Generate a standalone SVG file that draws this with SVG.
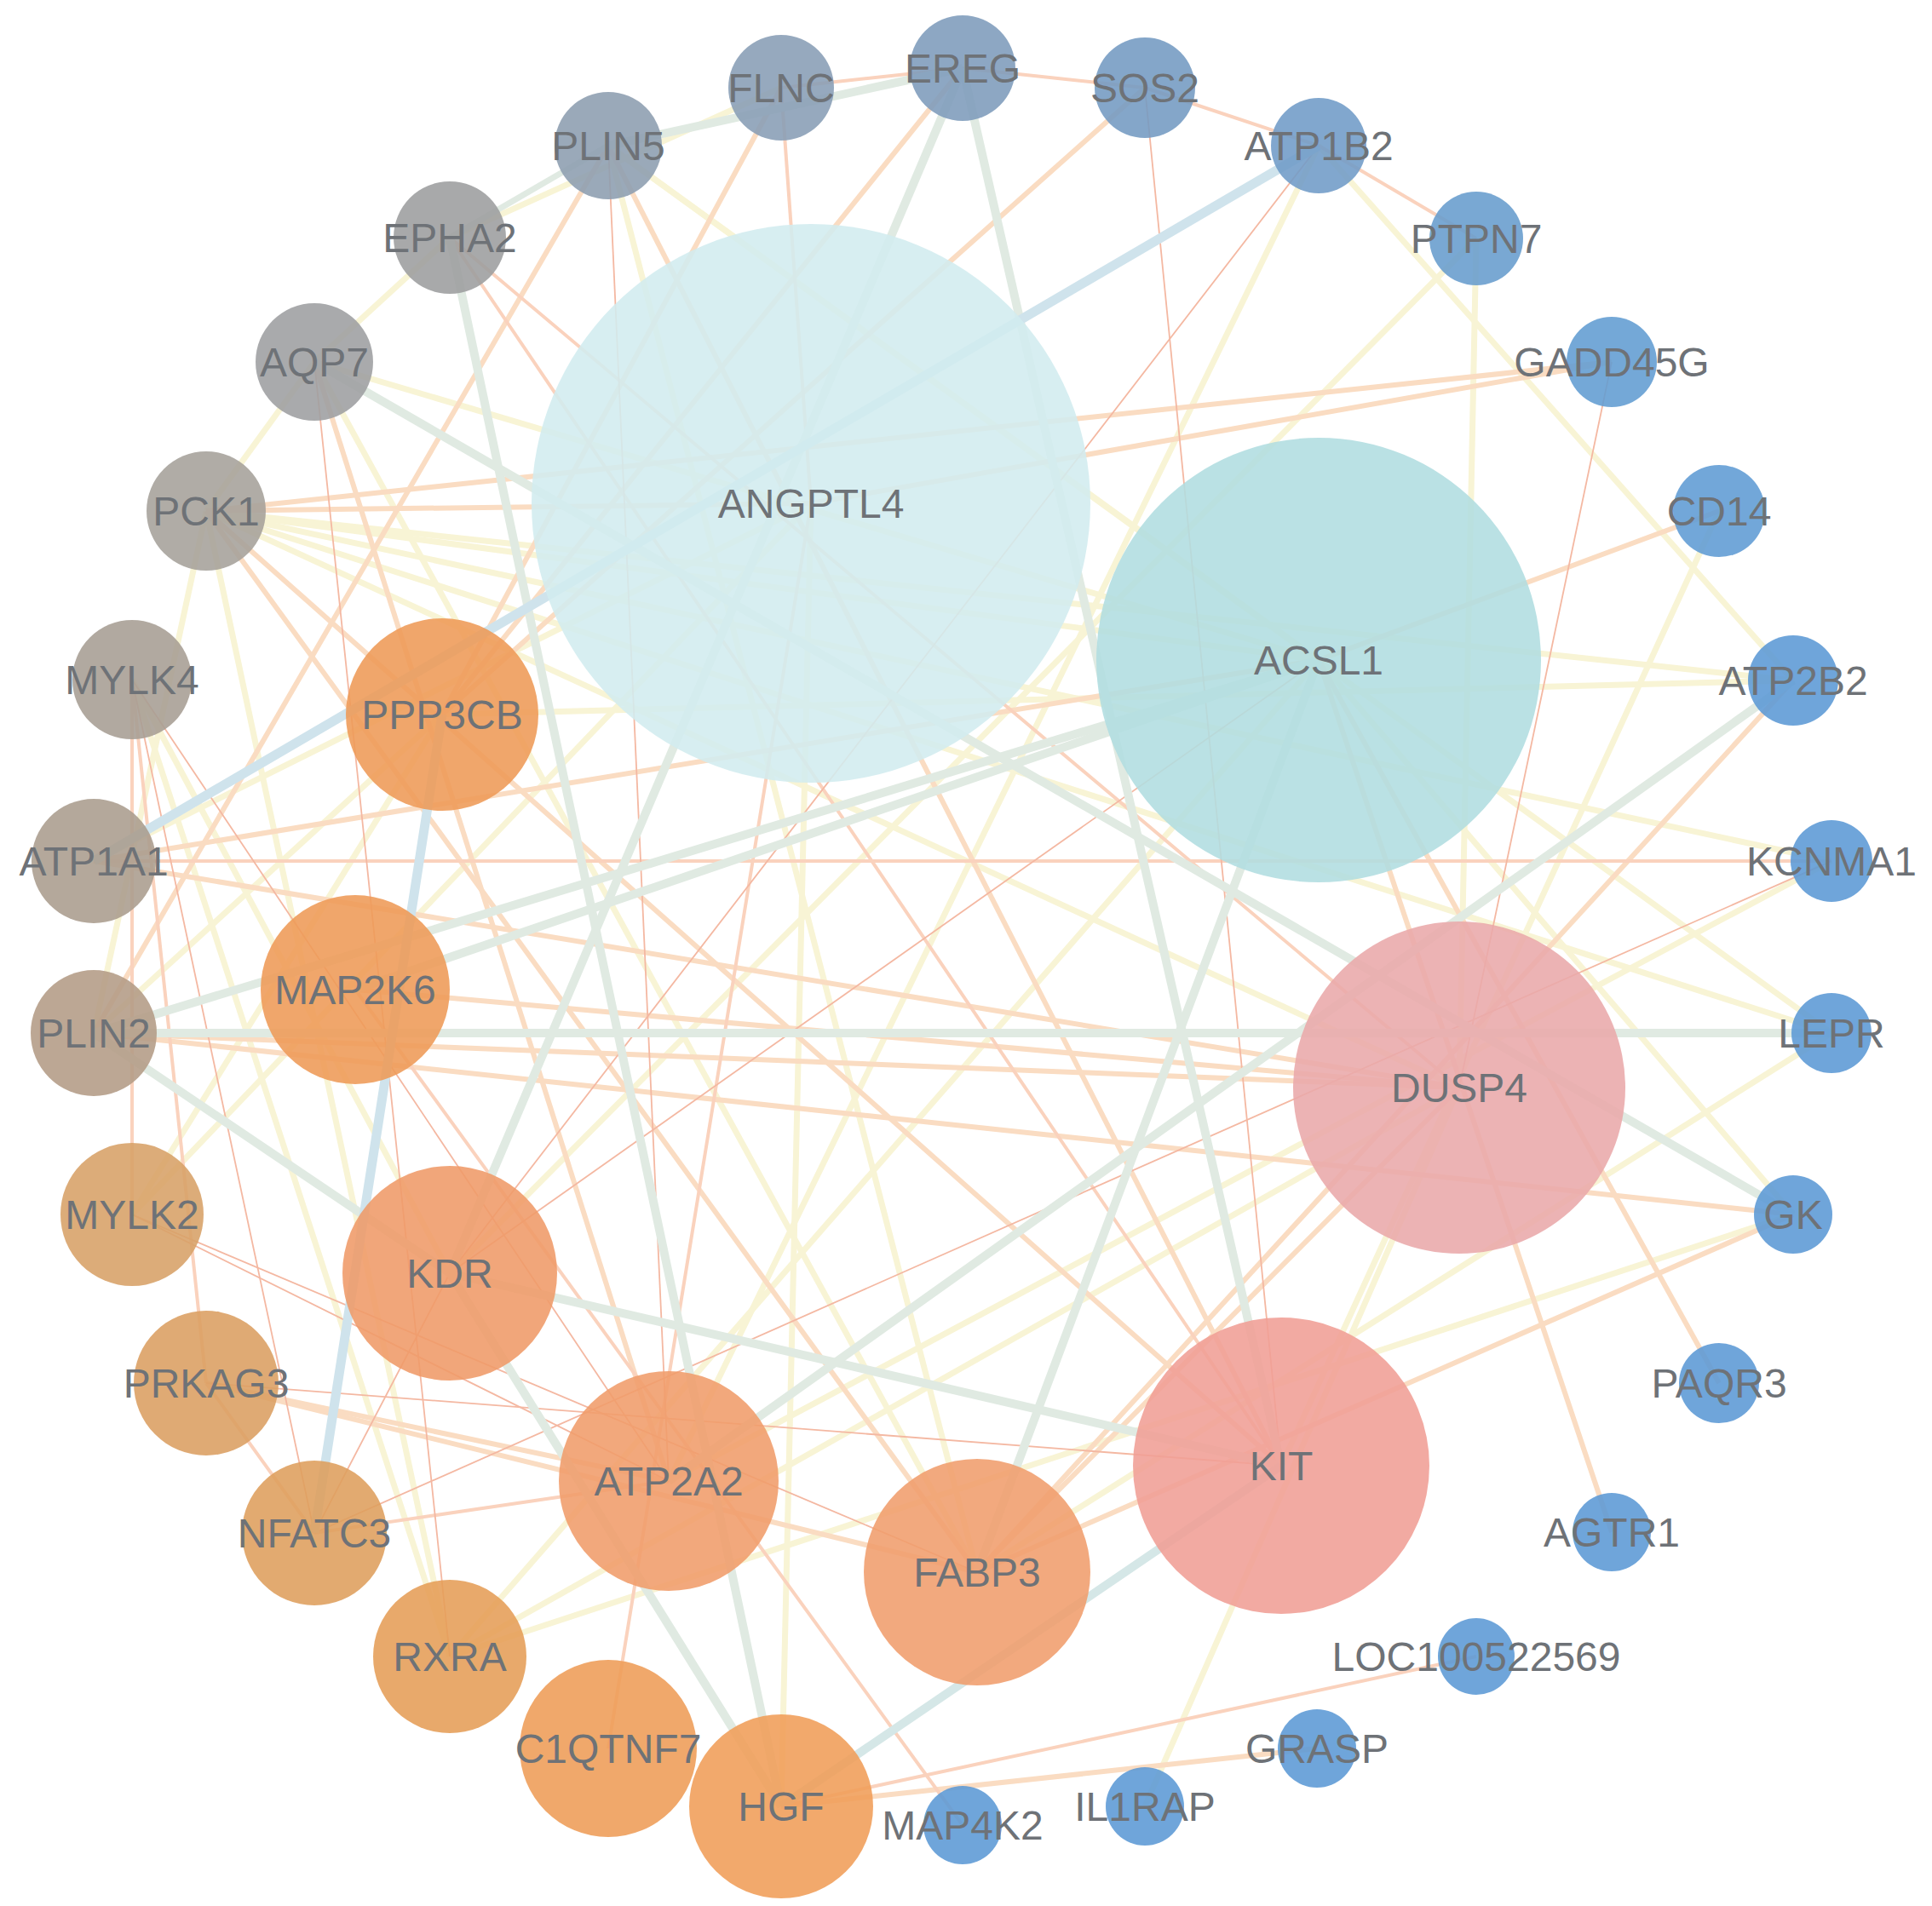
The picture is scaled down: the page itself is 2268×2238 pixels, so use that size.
<svg xmlns="http://www.w3.org/2000/svg" width="2268" height="2238" viewBox="0 0 2268 2238">
<style>
.b{stroke:#cfe3ec;stroke-width:11;fill:none}
.bg{stroke:#d5e7e7;stroke-width:10;fill:none}
.g{stroke:#e0eae2;stroke-width:10;fill:none}
.y{stroke:#f8f4d5;stroke-width:7;fill:none}
.o{stroke:#fadcc2;stroke-width:6;fill:none}
.t{stroke:#fad2bd;stroke-width:4;fill:none}
.h{stroke:#f4b8a2;stroke-width:1.8;fill:none}
.n circle{fill-opacity:0.88}
text{font-family:"Liberation Sans",Arial,sans-serif;font-size:48px;fill:#6e7277;text-anchor:middle;dominant-baseline:central}
</style>
<rect width="2268" height="2238" fill="#ffffff"/>
<g id="edges">
<line class="y" x1="528" y1="279" x2="369" y2="425"/>
<line class="y" x1="369" y1="425" x2="242" y2="600"/>
<line class="y" x1="369" y1="425" x2="1548" y2="775"/>
<line class="y" x1="369" y1="425" x2="1147" y2="1846"/>
<line class="y" x1="242" y1="600" x2="1548" y2="775"/>
<line class="y" x1="242" y1="600" x2="2105" y2="799"/>
<line class="y" x1="242" y1="600" x2="2150" y2="1011"/>
<line class="y" x1="242" y1="600" x2="2150" y2="1213"/>
<line class="y" x1="242" y1="600" x2="1713" y2="1277"/>
<line class="y" x1="242" y1="600" x2="528" y2="1945"/>
<line class="y" x1="242" y1="600" x2="110" y2="1213"/>
<line class="y" x1="714" y1="171" x2="1147" y2="1846"/>
<line class="y" x1="714" y1="171" x2="1548" y2="775"/>
<line class="y" x1="714" y1="171" x2="2150" y2="1213"/>
<line class="y" x1="1548" y1="775" x2="2105" y2="1426"/>
<line class="y" x1="528" y1="1945" x2="2105" y2="1426"/>
<line class="y" x1="528" y1="1945" x2="1713" y2="1277"/>
<line class="y" x1="528" y1="1945" x2="1548" y2="775"/>
<line class="y" x1="917" y1="2121" x2="952" y2="591"/>
<line class="y" x1="1344" y1="2121" x2="1713" y2="1277"/>
<line class="y" x1="2150" y1="1213" x2="1147" y2="1846"/>
<line class="y" x1="1548" y1="171" x2="2105" y2="799"/>
<line class="y" x1="1548" y1="171" x2="785" y2="1739"/>
<line class="y" x1="1733" y1="280" x2="1713" y2="1277"/>
<line class="y" x1="1733" y1="280" x2="528" y2="1495"/>
<line class="y" x1="2105" y1="799" x2="519" y2="839"/>
<line class="y" x1="2018" y1="600" x2="1504" y2="1721"/>
<line class="y" x1="2150" y1="1011" x2="785" y2="1739"/>
<line class="y" x1="110" y1="1011" x2="952" y2="591"/>
<line class="y" x1="110" y1="1213" x2="519" y2="839"/>
<line class="y" x1="155" y1="1426" x2="519" y2="839"/>
<line class="y" x1="155" y1="1426" x2="952" y2="591"/>
<line class="y" x1="155" y1="798" x2="528" y2="1495"/>
<line class="y" x1="155" y1="798" x2="528" y2="1945"/>
<line class="y" x1="528" y1="279" x2="917" y2="103"/>
<line class="o" x1="242" y1="600" x2="1892" y2="425"/>
<line class="o" x1="952" y1="591" x2="1892" y2="425"/>
<line class="o" x1="242" y1="600" x2="952" y2="591"/>
<line class="o" x1="714" y1="171" x2="110" y2="1213"/>
<line class="o" x1="110" y1="1213" x2="2105" y2="1426"/>
<line class="o" x1="242" y1="600" x2="1147" y2="1846"/>
<line class="o" x1="242" y1="600" x2="1504" y2="1721"/>
<line class="o" x1="369" y1="425" x2="785" y2="1739"/>
<line class="o" x1="110" y1="1011" x2="1548" y2="775"/>
<line class="o" x1="242" y1="1624" x2="785" y2="1739"/>
<line class="o" x1="242" y1="1624" x2="1147" y2="1846"/>
<line class="o" x1="917" y1="2121" x2="1546" y2="2053"/>
<line class="o" x1="2018" y1="600" x2="1548" y2="775"/>
<line class="o" x1="2018" y1="1624" x2="1548" y2="775"/>
<line class="o" x1="1892" y1="1799" x2="1548" y2="775"/>
<line class="o" x1="2105" y1="1426" x2="1147" y2="1846"/>
<line class="o" x1="2105" y1="799" x2="1147" y2="1846"/>
<line class="o" x1="1147" y1="1846" x2="1713" y2="1277"/>
<line class="o" x1="1344" y1="103" x2="519" y2="839"/>
<line class="o" x1="1130" y1="80" x2="519" y2="839"/>
<line class="o" x1="917" y1="103" x2="519" y2="839"/>
<line class="o" x1="714" y1="171" x2="1504" y2="1721"/>
<line class="o" x1="110" y1="1011" x2="1713" y2="1277"/>
<line class="o" x1="417" y1="1162" x2="1713" y2="1277"/>
<line class="o" x1="110" y1="1213" x2="1713" y2="1277"/>
<line class="t" x1="917" y1="103" x2="1130" y2="80"/>
<line class="t" x1="1130" y1="80" x2="1344" y2="103"/>
<line class="t" x1="1344" y1="103" x2="1548" y2="171"/>
<line class="t" x1="1548" y1="171" x2="1733" y2="280"/>
<line class="t" x1="110" y1="1011" x2="2150" y2="1011"/>
<line class="t" x1="917" y1="103" x2="952" y2="591"/>
<line class="t" x1="528" y1="279" x2="1504" y2="1721"/>
<line class="t" x1="528" y1="279" x2="1713" y2="1277"/>
<line class="t" x1="155" y1="798" x2="155" y2="1426"/>
<line class="t" x1="155" y1="798" x2="242" y2="1624"/>
<line class="t" x1="242" y1="1624" x2="369" y2="1800"/>
<line class="t" x1="369" y1="1800" x2="785" y2="1739"/>
<line class="t" x1="917" y1="2121" x2="1733" y2="1945"/>
<line class="t" x1="714" y1="2053" x2="952" y2="591"/>
<line class="t" x1="1130" y1="2143" x2="417" y2="1162"/>
<line class="h" x1="1344" y1="103" x2="1504" y2="1721"/>
<line class="h" x1="369" y1="425" x2="528" y2="1945"/>
<line class="h" x1="155" y1="798" x2="369" y2="1800"/>
<line class="h" x1="155" y1="798" x2="785" y2="1739"/>
<line class="h" x1="155" y1="1426" x2="785" y2="1739"/>
<line class="h" x1="155" y1="1426" x2="1147" y2="1846"/>
<line class="h" x1="369" y1="1800" x2="528" y2="1495"/>
<line class="h" x1="369" y1="1800" x2="2150" y2="1011"/>
<line class="h" x1="1548" y1="171" x2="528" y2="1495"/>
<line class="h" x1="1892" y1="425" x2="1713" y2="1277"/>
<line class="h" x1="242" y1="1624" x2="1504" y2="1721"/>
<line class="h" x1="528" y1="1495" x2="1548" y2="775"/>
<line class="h" x1="714" y1="171" x2="785" y2="1739"/>
<line class="g" x1="528" y1="279" x2="917" y2="2121"/>
<line class="g" x1="1130" y1="80" x2="1504" y2="1721"/>
<line class="g" x1="369" y1="425" x2="2105" y2="1426"/>
<line class="g" x1="714" y1="171" x2="1130" y2="80"/>
<line class="g" x1="110" y1="1213" x2="2150" y2="1213"/>
<line class="g" x1="528" y1="1495" x2="1504" y2="1721"/>
<line class="g" x1="1147" y1="1846" x2="1548" y2="775"/>
<line class="g" x1="785" y1="1739" x2="2105" y2="799"/>
<line class="g" x1="528" y1="1495" x2="1130" y2="80"/>
<line class="g" x1="110" y1="1213" x2="528" y2="1495"/>
<line class="g" x1="110" y1="1213" x2="1548" y2="775"/>
<line class="g" x1="417" y1="1162" x2="1548" y2="775"/>
<line class="g" x1="528" y1="1495" x2="917" y2="2121"/>
<line class="g" x1="528" y1="279" x2="714" y2="171" style="stroke-width:7"/>
<line class="b" x1="110" y1="1011" x2="1548" y2="171"/>
<line class="b" x1="519" y1="839" x2="369" y2="1800"/>
<line class="bg" x1="917" y1="2121" x2="1504" y2="1721"/>
</g>
<g id="ANGPTL4" class="n"><circle cx="952" cy="591" r="328" fill="#d2ecef"/><text x="952" y="591">ANGPTL4</text></g>
<g id="ACSL1" class="n"><circle cx="1548" cy="775" r="261" fill="#b0dde0"/><text x="1548" y="775">ACSL1</text></g>
<g id="DUSP4" class="n"><circle cx="1713" cy="1277" r="195" fill="#e9a8aa"/><text x="1713" y="1277">DUSP4</text></g>
<g id="KIT" class="n"><circle cx="1504" cy="1721" r="174" fill="#f09e95"/><text x="1504" y="1721">KIT</text></g>
<g id="FABP3" class="n"><circle cx="1147" cy="1846" r="133" fill="#f09d6c"/><text x="1147" y="1846">FABP3</text></g>
<g id="ATP2A2" class="n"><circle cx="785" cy="1739" r="129" fill="#f09c6a"/><text x="785" y="1739">ATP2A2</text></g>
<g id="KDR" class="n"><circle cx="528" cy="1495" r="126" fill="#ef9a68"/><text x="528" y="1495">KDR</text></g>
<g id="MAP2K6" class="n"><circle cx="417" cy="1162" r="111" fill="#ee9a56"/><text x="417" y="1162">MAP2K6</text></g>
<g id="PPP3CB" class="n"><circle cx="519" cy="839" r="113" fill="#ee9a57"/><text x="519" y="839">PPP3CB</text></g>
<g id="FLNC" class="n"><circle cx="917" cy="103" r="62" fill="#879db5"/><text x="917" y="103">FLNC</text></g>
<g id="EREG" class="n"><circle cx="1130" cy="80" r="62" fill="#7d9bbb"/><text x="1130" y="80">EREG</text></g>
<g id="SOS2" class="n"><circle cx="1344" cy="103" r="59" fill="#739ac2"/><text x="1344" y="103">SOS2</text></g>
<g id="ATP1B2" class="n"><circle cx="1548" cy="171" r="56" fill="#6f9bc7"/><text x="1548" y="171">ATP1B2</text></g>
<g id="PTPN7" class="n"><circle cx="1733" cy="280" r="55" fill="#679ccd"/><text x="1733" y="280">PTPN7</text></g>
<g id="GADD45G" class="n"><circle cx="1892" cy="425" r="53" fill="#619cd2"/><text x="1892" y="425">GADD45G</text></g>
<g id="CD14" class="n"><circle cx="2018" cy="600" r="54" fill="#5e9bd4"/><text x="2018" y="600">CD14</text></g>
<g id="ATP2B2" class="n"><circle cx="2105" cy="799" r="53" fill="#5b99d5"/><text x="2105" y="799">ATP2B2</text></g>
<g id="KCNMA1" class="n"><circle cx="2150" cy="1011" r="48" fill="#5b99d5"/><text x="2150" y="1011">KCNMA1</text></g>
<g id="LEPR" class="n"><circle cx="2150" cy="1213" r="47" fill="#5b99d5"/><text x="2150" y="1213">LEPR</text></g>
<g id="GK" class="n"><circle cx="2105" cy="1426" r="46" fill="#5b99d5"/><text x="2105" y="1426">GK</text></g>
<g id="PAQR3" class="n"><circle cx="2018" cy="1624" r="47" fill="#5b99d5"/><text x="2018" y="1624">PAQR3</text></g>
<g id="AGTR1" class="n"><circle cx="1892" cy="1799" r="46" fill="#5b99d5"/><text x="1892" y="1799">AGTR1</text></g>
<g id="LOC100522569" class="n"><circle cx="1733" cy="1945" r="45" fill="#5b99d5"/><text x="1733" y="1945">LOC100522569</text></g>
<g id="GRASP" class="n"><circle cx="1546" cy="2053" r="46" fill="#5b99d5"/><text x="1546" y="2053">GRASP</text></g>
<g id="IL1RAP" class="n"><circle cx="1344" cy="2121" r="46" fill="#5b99d5"/><text x="1344" y="2121">IL1RAP</text></g>
<g id="MAP4K2" class="n"><circle cx="1130" cy="2143" r="46" fill="#5b99d5"/><text x="1130" y="2143">MAP4K2</text></g>
<g id="HGF" class="n"><circle cx="917" cy="2121" r="108" fill="#f09d58"/><text x="917" y="2121">HGF</text></g>
<g id="C1QTNF7" class="n"><circle cx="714" cy="2053" r="104" fill="#ee9c56"/><text x="714" y="2053">C1QTNF7</text></g>
<g id="RXRA" class="n"><circle cx="528" cy="1945" r="90" fill="#e59d56"/><text x="528" y="1945">RXRA</text></g>
<g id="NFATC3" class="n"><circle cx="369" cy="1800" r="85" fill="#de9e5c"/><text x="369" y="1800">NFATC3</text></g>
<g id="PRKAG3" class="n"><circle cx="242" cy="1624" r="85" fill="#db9e61"/><text x="242" y="1624">PRKAG3</text></g>
<g id="MYLK2" class="n"><circle cx="155" cy="1426" r="84" fill="#d7a066"/><text x="155" y="1426">MYLK2</text></g>
<g id="PLIN2" class="n"><circle cx="110" cy="1213" r="74" fill="#b39b85"/><text x="110" y="1213">PLIN2</text></g>
<g id="ATP1A1" class="n"><circle cx="110" cy="1011" r="73" fill="#aa9c8d"/><text x="110" y="1011">ATP1A1</text></g>
<g id="MYLK4" class="n"><circle cx="155" cy="798" r="70" fill="#a69d93"/><text x="155" y="798">MYLK4</text></g>
<g id="PCK1" class="n"><circle cx="242" cy="600" r="70" fill="#a5a19a"/><text x="242" y="600">PCK1</text></g>
<g id="AQP7" class="n"><circle cx="369" cy="425" r="69" fill="#9d9ea0"/><text x="369" y="425">AQP7</text></g>
<g id="EPHA2" class="n"><circle cx="528" cy="279" r="66" fill="#9c9d9e"/><text x="528" y="279">EPHA2</text></g>
<g id="PLIN5" class="n"><circle cx="714" cy="171" r="63" fill="#8c9daf"/><text x="714" y="171">PLIN5</text></g>
</svg>
